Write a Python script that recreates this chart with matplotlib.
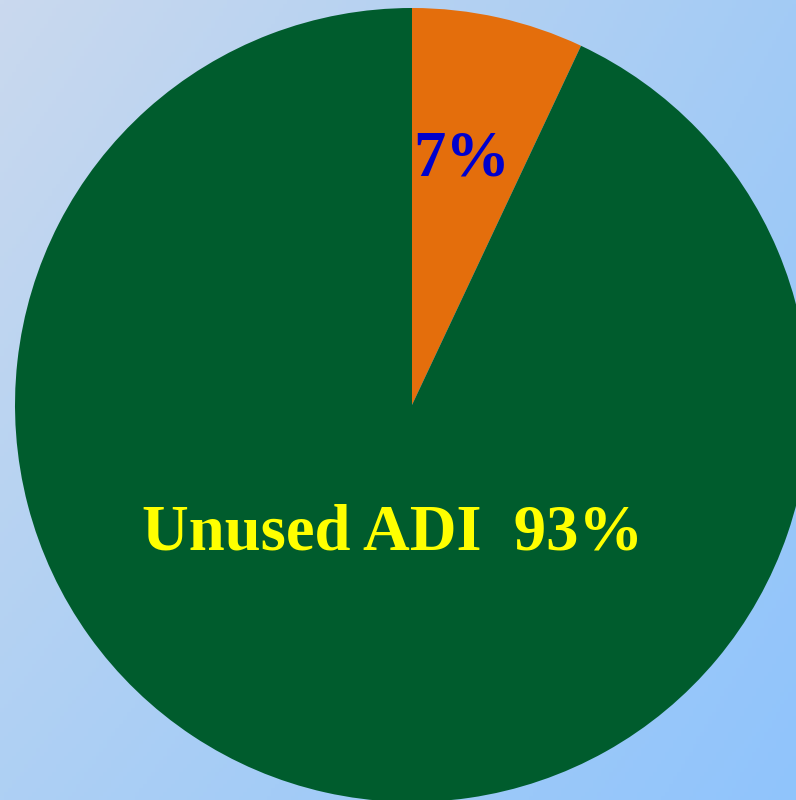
import matplotlib
matplotlib.use("Agg")
import matplotlib.pyplot as plt
import numpy as np

# Data
categories = ["Used ADI", "Unused ADI"]
values = [7, 93]
label_texts = ["7%", "Unused ADI  93%"]
slice_colors = ["#e46e0c", "#005c2d"]
text_colors = ["#0000cc", "#ffff00"]

W, H = 796, 800
fig = plt.figure(figsize=(W / 100, H / 100), dpi=100)
ax = fig.add_axes([0, 0, 1, 1])
ax.set_xlim(0, W)
ax.set_ylim(0, H)
ax.set_aspect("equal")
ax.axis("off")

# Gradient background (bilinear between corners)
tl = np.array([0xca, 0xd9, 0xee]) / 255
tr = np.array([0xa3, 0xcb, 0xf5]) / 255
bl = np.array([0xae, 0xd0, 0xf4]) / 255
br = np.array([0x90, 0xc4, 0xfc]) / 255
ny, nx = 200, 200
u = np.linspace(0, 1, nx)[None, :, None]
v = np.linspace(0, 1, ny)[:, None, None]
top = tl * (1 - u) + tr * u
bot = bl * (1 - u) + br * u
img = top * (1 - v) + bot * v
ax.imshow(img, extent=[0, W, 0, H], origin="upper", zorder=0, aspect="auto")

cx, cy, r = 412, H - 405, 397
wedges, _ = ax.pie(values, colors=slice_colors, startangle=90, counterclock=False,
                   center=(cx, cy), radius=r, frame=True,
                   wedgeprops=dict(linewidth=0))
for w in wedges:
    w.set_zorder(1)
ax.set_xlim(0, W)
ax.set_ylim(0, H)
ax.axis("off")

font = dict(family="Liberation Serif", weight="bold", size=46.5)
ax.text(462, H - 175, label_texts[0], color=text_colors[0], ha="center",
        va="baseline", zorder=3, **font)
ax.text(392, H - 549, label_texts[1], color=text_colors[1], ha="center",
        va="baseline", zorder=3, **font)

fig.savefig("out.png", dpi=100)
